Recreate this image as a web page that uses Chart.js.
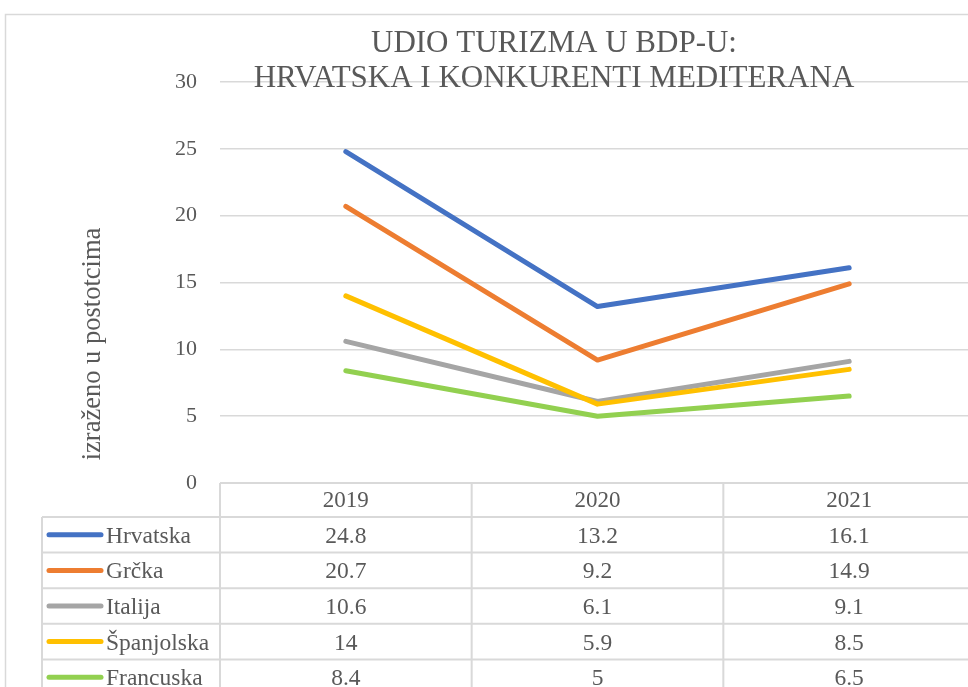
<!DOCTYPE html>
<html>
<head>
<meta charset="utf-8">
<script src="https://cdn.jsdelivr.net/npm/chart.js@4.4.0/dist/chart.umd.min.js"></script>
<style>
  html, body { margin: 0; padding: 0; background: #fff; overflow: hidden; }
  canvas { display: block; }
</style>
</head>
<body>
<canvas id="turizam" width="1000" height="720"></canvas>
<script>
// podaci
const godine = ["2019", "2020", "2021"];
const zemlje = ["Hrvatska", "Grčka", "Italija", "Španjolska", "Francuska"];
const hrvatska = [24.8, 13.2, 16.1];
const grcka = [20.7, 9.2, 14.9];
const italija = [10.6, 6.1, 9.1];
const spanjolska = [14, 5.9, 8.5];
const francuska = [8.4, 5, 6.5];
const vrijednosti = [hrvatska, grcka, italija, spanjolska, francuska];
const boje = ["#4472C4", "#ED7D31", "#A5A5A5", "#FFC000", "#92D050"];
const naslov = ["UDIO TURIZMA U BDP-U:", "HRVATSKA I KONKURENTI MEDITERANA"];
const osY = "izraženo u postotcima";

const siva = "#595959";
const rub = "#d9d9d9";
const font = "'Liberation Serif', 'Times New Roman', serif";

// okvir, naslov, naslov osi i tablica podataka
const tablica = {
  id: "tablica",
  beforeDraw(chart) {
    const c = chart.ctx;
    c.save();
    c.fillStyle = "#fff";
    c.fillRect(0, 0, chart.width, chart.height);
    c.strokeStyle = rub;
    c.lineWidth = 1.5;
    c.strokeRect(5.5, 14.5, chart.width, chart.height);
    c.restore();
  },
  afterDraw(chart) {
    const c = chart.ctx;
    const a = chart.chartArea;
    const x = chart.scales.x;
    const colW = (a.right - a.left) / godine.length;
    const top = a.bottom;
    const headH = 34;
    const rowH = 35.6;
    const left = 42;

    c.save();
    // linije tablice
    c.strokeStyle = rub;
    c.lineWidth = 2;
    c.beginPath();
    c.moveTo(a.left, top);
    c.lineTo(a.right, top);
    for (let i = 0; i <= zemlje.length; i++) {
      const y = top + headH + i * rowH;
      c.moveTo(left, y);
      c.lineTo(a.right, y);
    }
    c.moveTo(left, top + headH);
    c.lineTo(left, chart.height);
    for (let i = 0; i <= godine.length; i++) {
      const xx = a.left + i * colW;
      c.moveTo(xx, top);
      c.lineTo(xx, chart.height);
    }
    c.stroke();

    // redovi
    c.font = "23.5px " + font;
    c.fillStyle = siva;
    c.textBaseline = "alphabetic";
    zemlje.forEach((ime, i) => {
      const yc = top + headH + i * rowH + rowH / 2;
      c.strokeStyle = boje[i];
      c.lineWidth = 5;
      c.lineCap = "round";
      c.beginPath();
      c.moveTo(49, yc);
      c.lineTo(101, yc);
      c.stroke();
      c.textAlign = "left";
      c.fillText(ime, 106, yc + 8);
      c.textAlign = "center";
      vrijednosti[i].forEach((v, j) => {
        c.fillText(String(v), x.getPixelForValue(j), yc + 8);
      });
    });

    // naslov
    c.font = "31px " + font;
    c.textAlign = "center";
    c.fillText(naslov[0], 554, 52);
    c.fillText(naslov[1], 554, 87);

    // naslov osi Y
    c.translate(100, 344);
    c.rotate(-Math.PI / 2);
    c.font = "26.5px " + font;
    c.textAlign = "center";
    c.fillText(osY, 0, 0);
    c.restore();
  }
};

new Chart(document.getElementById("turizam"), {
  type: "line",
  data: {
    labels: godine,
    datasets: zemlje.map((ime, i) => ({
      label: ime,
      data: vrijednosti[i],
      borderColor: boje[i],
      backgroundColor: boje[i],
      borderWidth: 5,
      borderCapStyle: "round",
      borderJoinStyle: "round",
      pointRadius: 0,
      tension: 0
    })).reverse()
  },
  options: {
    responsive: false,
    animation: false,
    layout: { padding: { top: 82, right: 25, bottom: 0, left: 0 } },
    plugins: {
      legend: { display: false },
      title: { display: false },
      tooltip: { enabled: false }
    },
    scales: {
      x: {
        offset: true,
        grid: { display: false, drawTicks: false },
        border: { display: false },
        ticks: {
          color: siva,
          padding: 4,
          font: { family: font, size: 23 }
        },
        afterFit: (s) => { s.height = 237; }
      },
      y: {
        min: 0,
        max: 30,
        grid: { color: rub, lineWidth: 1.5, drawTicks: false },
        border: { display: false },
        ticks: {
          stepSize: 5,
          color: siva,
          padding: 23,
          font: { family: font, size: 22 }
        },
        afterFit: (s) => { s.width = 220; }
      }
    }
  },
  plugins: [tablica]
});
</script>
</body>
</html>
